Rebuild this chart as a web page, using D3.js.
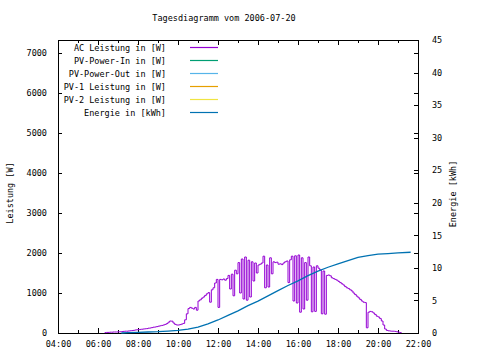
<!DOCTYPE html>
<html lang="de">
<head>
    <meta charset="UTF-8">
    <title>Tagesdiagramm vom 2006-07-20</title>
    <script src="https://d3js.org/d3.v7.min.js"></script>
    <style>
        body { margin: 0; background: white; }
        text { font-family: "DejaVu Sans Mono", monospace; font-size: 8.5px; fill: black; }
    </style>
</head>
<body>
    <svg width="480" height="360"></svg>

    <script>
        // --- data ---
        // AC power, one value every 5 minutes starting at 06:20
        const acStart = "06:20";
        const acStepMinutes = 5;
        const acPower = [
            10, 15, 15, 20, 20, 25, 25, 25,
            30, 30, 35, 40, 45, 45, 50, 55, 60, 65, 75, 80,
            85, 90, 95, 100, 105, 110, 120, 125, 135, 145, 150, 160,
            170, 180, 190, 200, 215, 235, 270, 300, 295, 250, 215, 200,
            200, 210, 225, 240, 330, 480, 610, 640, 620, 600, 640, 570,
            800, 830, 870, 900, 940, 980, 1010, 770, 1080, 1130, 1250, 1340,
            640, 1340, 1330, 1350, 1320, 1360, 1440, 1100, 1470, 930, 1570, 1480,
            1760, 1000, 1850, 850, 1900, 820, 1820, 900, 1780, 1300, 1750, 1500,
            1700, 1720, 1750, 1920, 1130, 1700, 1150, 1880, 1480, 1780, 1760, 1770,
            1720, 1730, 1710, 1750, 1780, 1800, 1260, 1830, 1920, 800, 1930, 750,
            1950, 520, 1880, 600, 1760, 820, 1900, 1680, 530, 1650, 540, 1680,
            1620, 1580, 480, 1550, 470, 1440, 1450, 1430, 1380, 1360, 1340, 1320,
            1290, 1260, 1230, 1200, 1160, 1130, 1110, 1080, 1050, 1000, 960, 920,
            880, 840, 800, 770, 760, 130, 520, 540, 530, 500, 460, 420,
            400, 360, 300, 200, 100, 65, 55, 50, 45, 45, 40, 30,
            20, 10, 0
        ];

        // accumulated energy in kWh
        const energyTimes = ["07:10", "07:30", "08:00", "08:30", "09:00", "09:30", "10:00", "10:30",
                             "11:00", "11:30", "12:00", "12:30", "13:00", "13:30", "14:00", "14:30",
                             "15:00", "15:30", "16:00", "16:30", "17:00", "17:30", "18:00", "18:30",
                             "19:00", "19:30", "20:00", "20:30", "21:00", "21:38"];
        const energyValues = [0, 0.05, 0.1, 0.15, 0.2, 0.3, 0.4, 0.6,
                              0.9, 1.4, 2.0, 2.7, 3.4, 4.2, 4.9, 5.7,
                              6.5, 7.3, 8.0, 8.8, 9.5, 10.1, 10.6, 11.1,
                              11.6, 11.9, 12.1, 12.2, 12.3, 12.4];

        const xTicks = ["04:00", "06:00", "08:00", "10:00", "12:00", "14:00", "16:00", "18:00", "20:00", "22:00"];
        const yTicks = [0, 1000, 2000, 3000, 4000, 5000, 6000, 7000];
        const y2Ticks = [0, 5, 10, 15, 20, 25, 30, 35, 40, 45];

        const legendLabels = ["AC Leistung in [W]", "PV-Power-In in [W]", "PV-Power-Out in [W]",
                              "PV-1 Leistung in [W]", "PV-2 Leistung in [W]", "Energie in [kWh]"];
        const legendColors = ["#9400D3", "#009E73", "#56B4E9", "#E69F00", "#F0E442", "#0072B2"];

        // --- layout ---
        const width = 480, height = 360;
        const plot = { left: 58, right: 418, top: 40, bottom: 333 };

        const toHours = s => { const p = s.split(":"); return +p[0] + +p[1] / 60; };

        const svg = d3.select("svg");

        const xScale = d3.scaleLinear()
                         .domain([4, 22])
                         .range([plot.left, plot.right]);

        const yScale = d3.scaleLinear()
                         .domain([0, 7325])
                         .range([plot.bottom, plot.top]);

        const y2Scale = d3.scaleLinear()
                          .domain([0, 45])
                          .range([plot.bottom, plot.top]);

        const acData = acPower.map((v, i) => ({
            t: toHours(acStart) + i * acStepMinutes / 60,
            v: v
        }));
        const energyData = energyTimes.map((t, i) => ({ t: toHours(t), v: energyValues[i] }));

        // Axes (gnuplot style: ticks pointing inward, mirrored)
        const xHours = xTicks.map(toHours);
        const xMinor = d3.range(5, 22, 2);

        svg.append("g")
           .attr("transform", `translate(0,${plot.bottom})`)
           .call(d3.axisBottom(xScale).tickValues(xHours).tickSize(-5).tickPadding(8)
                   .tickFormat((d, i) => xTicks[i]))
           .call(g => g.select(".domain").remove());

        svg.append("g")
           .attr("transform", `translate(0,${plot.bottom})`)
           .call(d3.axisBottom(xScale).tickValues(xMinor).tickSize(-3).tickFormat(""))
           .call(g => g.select(".domain").remove());

        svg.append("g")
           .attr("transform", `translate(0,${plot.top})`)
           .call(d3.axisTop(xScale).tickValues(xHours).tickSize(-5).tickFormat(""))
           .call(g => g.select(".domain").remove());

        svg.append("g")
           .attr("transform", `translate(0,${plot.top})`)
           .call(d3.axisTop(xScale).tickValues(xMinor).tickSize(-3).tickFormat(""))
           .call(g => g.select(".domain").remove());

        svg.append("g")
           .attr("transform", `translate(${plot.left},0)`)
           .call(d3.axisLeft(yScale).tickValues(yTicks).tickSize(-4).tickPadding(11)
                   .tickFormat(d3.format("d")))
           .call(g => g.select(".domain").remove());

        svg.append("g")
           .attr("transform", `translate(${plot.right},0)`)
           .call(d3.axisRight(yScale).tickValues(yTicks).tickSize(-4).tickFormat(""))
           .call(g => g.select(".domain").remove());

        svg.append("g")
           .attr("transform", `translate(${plot.right},0)`)
           .call(d3.axisRight(y2Scale).tickValues(y2Ticks).tickSize(-4).tickPadding(14)
                   .tickFormat(d3.format("d")))
           .call(g => g.select(".domain").remove());

        svg.selectAll(".tick line")
           .attr("stroke", "black")
           .attr("shape-rendering", "crispEdges");
        svg.selectAll(".tick text")
           .attr("font-family", null)
           .attr("font-size", null);

        // Frame
        svg.append("rect")
           .attr("x", plot.left)
           .attr("y", plot.top)
           .attr("width", plot.right - plot.left)
           .attr("height", plot.bottom - plot.top)
           .attr("fill", "none")
           .attr("stroke", "black")
           .attr("shape-rendering", "crispEdges");

        // Lines
        const acLine = d3.line()
                         .x(d => xScale(d.t))
                         .y(d => yScale(d.v))
                         .curve(d3.curveStepAfter);

        const energyLine = d3.line()
                             .x(d => xScale(d.t))
                             .y(d => y2Scale(d.v));

        svg.append("path")
           .datum(acData)
           .attr("fill", "none")
           .attr("stroke", legendColors[0])
           .attr("stroke-width", 1)
           .attr("d", acLine);

        svg.append("path")
           .datum(energyData)
           .attr("fill", "none")
           .attr("stroke", legendColors[5])
           .attr("stroke-width", 1.3)
           .attr("d", energyLine);

        // Legend
        const legend = svg.append("g");
        legendLabels.forEach((label, i) => {
            const y = 47.5 + i * 13;
            legend.append("text")
                  .attr("x", 166)
                  .attr("y", y + 3)
                  .attr("text-anchor", "end")
                  .text(label);
            legend.append("line")
                  .attr("x1", 190)
                  .attr("x2", 218)
                  .attr("y1", y)
                  .attr("y2", y)
                  .attr("stroke", legendColors[i])
                  .attr("stroke-width", 1.2);
        });

        // Title and axis labels
        svg.append("text")
           .attr("x", 224)
           .attr("y", 21)
           .attr("text-anchor", "middle")
           .text("Tagesdiagramm vom 2006-07-20");

        svg.append("text")
           .attr("transform", "rotate(-90)")
           .attr("x", -193)
           .attr("y", 13)
           .attr("text-anchor", "middle")
           .text("Leistung [W]");

        svg.append("text")
           .attr("transform", "rotate(-90)")
           .attr("x", -194)
           .attr("y", 456)
           .attr("text-anchor", "middle")
           .text("Energie [kWh]");
    </script>
</body>
</html>
